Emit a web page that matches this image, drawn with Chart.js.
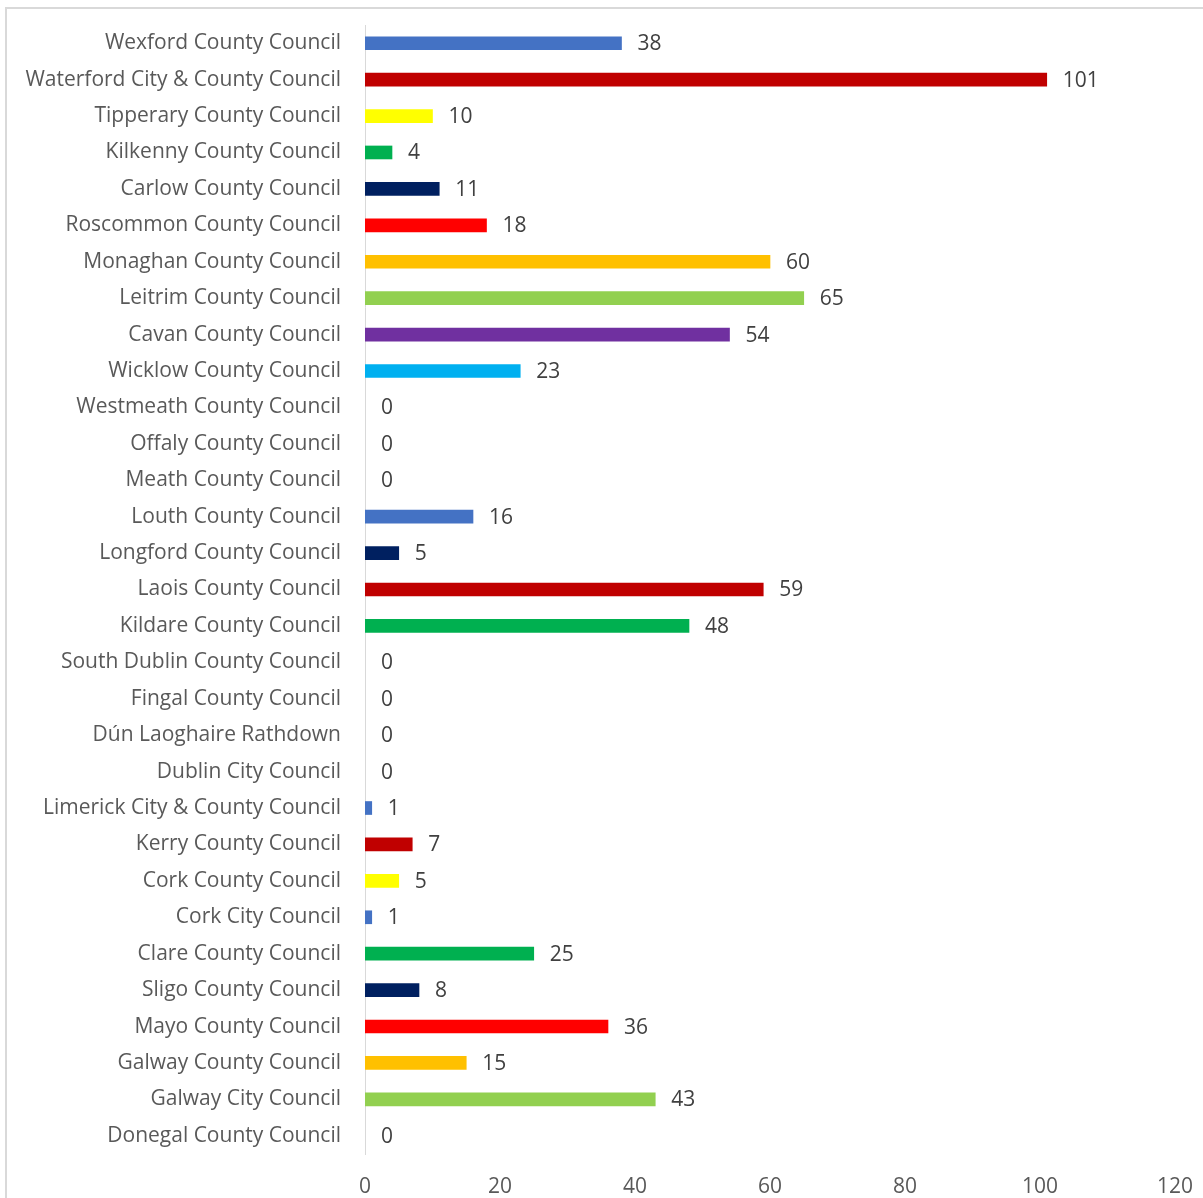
<!DOCTYPE html>
<html lang="en">
<head>
    <meta charset="UTF-8">
    <title>Councils</title>
    <script src="https://cdn.jsdelivr.net/npm/chart.js"></script>
    <style>
        body { margin: 0; background: #fff; }
        .frame {
            position: absolute; left: 5px; top: 7px; width: 1198px; height: 1191px;
            border-left: 2px solid #d9d9d9; border-top: 2px solid #d9d9d9;
        }
        #chart { position: absolute; left: 0; top: 0; }
    </style>
</head>
<body>
    <div class="frame"></div>
    <canvas id="chart" width="1203" height="1198"></canvas>

    <script>
        const councils = [
            'Wexford County Council', 'Waterford City & County Council', 'Tipperary County Council',
            'Kilkenny County Council', 'Carlow County Council', 'Roscommon County Council',
            'Monaghan County Council', 'Leitrim County Council', 'Cavan County Council',
            'Wicklow County Council', 'Westmeath County Council', 'Offaly County Council',
            'Meath County Council', 'Louth County Council', 'Longford County Council',
            'Laois County Council', 'Kildare County Council', 'South Dublin County Council',
            'Fingal County Council', 'Dún Laoghaire Rathdown', 'Dublin City Council',
            'Limerick City & County Council', 'Kerry County Council', 'Cork County Council',
            'Cork City Council', 'Clare County Council', 'Sligo County Council',
            'Mayo County Council', 'Galway County Council', 'Galway City Council',
            'Donegal County Council'
        ];
        const counts = [38, 101, 10, 4, 11, 18, 60, 65, 54, 23, 0, 0, 0, 16, 5, 59, 48,
                        0, 0, 0, 0, 1, 7, 5, 1, 25, 8, 36, 15, 43, 0];
        const barColours = [
            '#4472C4', '#C00000', '#FFFF00', '#00B050', '#002060', '#FF0000',
            '#FFC000', '#92D050', '#7030A0', '#00B0F0', '#4472C4', '#C00000',
            '#FFFF00', '#4472C4', '#002060', '#C00000', '#00B050', '#4472C4',
            '#4472C4', '#4472C4', '#4472C4', '#4472C4', '#C00000', '#FFFF00',
            '#4472C4', '#00B050', '#002060', '#FF0000', '#FFC000', '#92D050',
            '#7030A0'
        ];
        const xTicks = [0, 20, 40, 60, 80, 100, 120];

        const FONT = "'Open Sans', sans-serif";

        // value labels to the right of each bar
        const valueLabels = {
            id: 'valueLabels',
            afterDatasetsDraw(chart) {
                const ctx = chart.ctx;
                const meta = chart.getDatasetMeta(0);
                ctx.save();
                ctx.font = '21px ' + FONT;
                ctx.fillStyle = '#404040';
                ctx.textAlign = 'left';
                ctx.textBaseline = 'middle';
                meta.data.forEach((bar, i) => {
                    ctx.fillText(String(counts[i]), bar.x + 16, bar.y + 1);
                });
                ctx.restore();
            }
        };

        new Chart(document.getElementById('chart'), {
            type: 'bar',
            data: {
                labels: councils,
                datasets: [{
                    data: counts,
                    // zero bars would leave a sliver on the axis
                    backgroundColor: ctx => counts[ctx.dataIndex] === 0 ? 'rgba(0,0,0,0)' : barColours[ctx.dataIndex],
                    barThickness: 13
                }]
            },
            options: {
                indexAxis: 'y',
                responsive: false,
                animation: false,
                layout: { padding: { top: 25, right: 28, left: 0, bottom: 0 } },
                plugins: { legend: { display: false }, tooltip: { enabled: false } },
                scales: {
                    x: {
                        min: 0, max: 120,
                        afterFit: s => {
                            s.height = 44;
                            s.paddingLeft = 0; s.paddingRight = 0;
                        },
                        afterBuildTicks: s => { s.ticks = xTicks.map(v => ({ value: v })); },
                        grid: { display: false, drawTicks: false },
                        border: { display: false },
                        ticks: { color: '#595959', font: { family: FONT, size: 21 }, padding: 20 }
                    },
                    y: {
                        afterFit: s => {
                            s.width = 365;
                            s.paddingTop = 0; s.paddingBottom = 0;
                        },
                        grid: { display: false, drawTicks: false },
                        border: { display: true, color: '#d9d9d9', width: 1 },
                        ticks: { color: '#595959', font: { family: FONT, size: 21 }, padding: 24, autoSkip: false }
                    }
                }
            },
            plugins: [valueLabels]
        });
    </script>
</body>
</html>
